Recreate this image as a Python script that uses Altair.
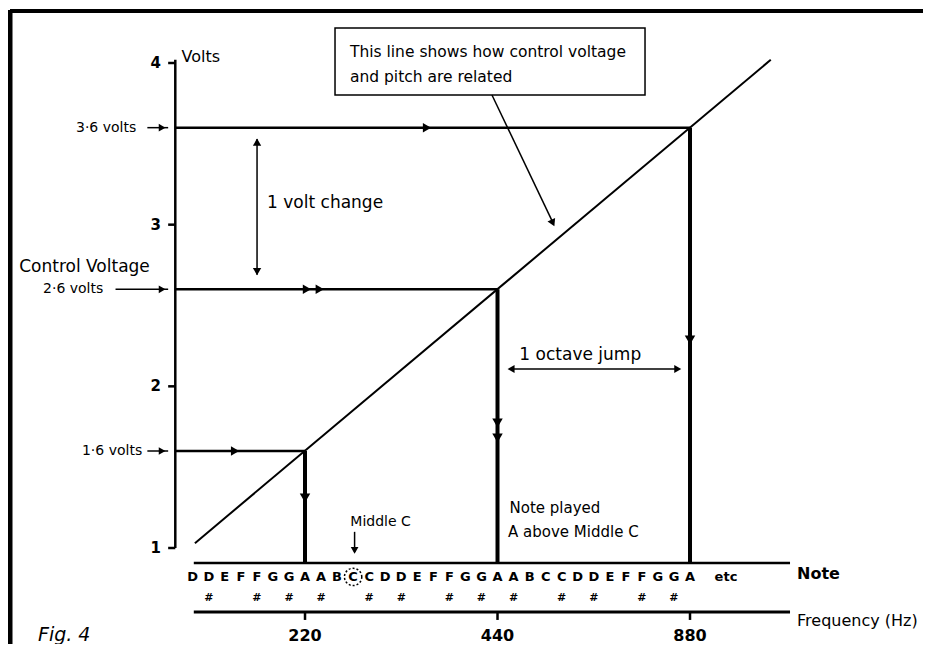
import altair as alt
import pandas as pd

# ---------------- data ----------------
cv_freq = [220, 440, 880]                  # Hz, the three A notes
cv_volts = [1.6, 2.6, 3.6]                 # control voltage for each
cv_labels = ["1·6 volts", "2·6 volts", "3·6 volts"]

relation_freq = [148, 1177]                # straight line on a log-frequency axis
relation_volts = [1.03, 4.02]

volt_ticks = [1, 2, 3, 4]
freq_ticks = [220, 440, 880]
freq_tick_labels = ["220", "440", "880"]

note_names = ["D", "D", "E", "F", "F", "G", "G",
              "A", "A", "B", "C", "C", "D", "D", "E", "F", "F", "G", "G",
              "A", "A", "B", "C", "C", "D", "D", "E", "F", "F", "G", "G",
              "A"]
note_sharp = [0, 1, 0, 0, 1, 0, 1,
              0, 1, 0, 0, 1, 0, 1, 0, 0, 1, 0, 1,
              0, 1, 0, 0, 1, 0, 1, 0, 0, 1, 0, 1,
              0]
note_freq = [146.8, 155.6, 164.8, 174.6, 185.0, 196.0, 207.7,
             220.0, 233.1, 246.9, 261.6, 277.2, 293.7, 311.1, 329.6, 349.2, 370.0, 392.0, 415.3,
             440.0, 466.2, 493.9, 523.3, 554.4, 587.3, 622.3, 659.3, 698.5, 740.0, 784.0, 830.6,
             880.0]
middle_c_freq = 261.6

# ---------------- annotation placement (data units: Hz, volts) ----------------
AXIS_F = 137.9
TICK_F = 134.4
TICKLABEL_F = 131.0
AXIS_TOP = 4.02
NOTE_LINE_V = 0.907
NOTE_TEXT_V = 0.821
SHARP_TEXT_V = 0.691
FREQ_LINE_V = 0.604
FREQ_TICK_END_V = 0.555
FREQ_LABEL_V = 0.456
ROW_START_F = 147.4
ROW_END_F = 1261.5

W, H = 915, 636
FONT = "DejaVu Sans"

xs = alt.Scale(type="log", base=2, domain=[75.5, 2036.3], nice=False, zero=False)
ys = alt.Scale(domain=[0.4062, 4.3402], nice=False, zero=False)


def X(f="x"):
    return alt.X(f"{f}:Q", scale=xs, axis=None)


def Y(f="y"):
    return alt.Y(f"{f}:Q", scale=ys, axis=None)


def text_layer(df, align="left", size=15, weight="normal", style="normal", baseline="middle"):
    return alt.Chart(df).mark_text(
        align=align, baseline=baseline, font=FONT, fontSize=size,
        fontWeight=weight, fontStyle=style, color="black"
    ).encode(x=X(), y=Y(), text="t:N")


def arrow_layer(df, shape, size=70, angle=0):
    return alt.Chart(df).mark_point(
        shape=shape, filled=True, size=size, color="black", opacity=1, angle=angle
    ).encode(x=X(), y=Y())


layers = []

# the relation line
layers.append(alt.Chart(pd.DataFrame({"x": relation_freq, "y": relation_volts}))
              .mark_line(color="black", strokeWidth=2).encode(x=X(), y=Y()))

# horizontal control-voltage lines from the axis to the relation line
layers.append(alt.Chart(pd.DataFrame({"x": [AXIS_F] * 3, "x2": cv_freq, "y": cv_volts}))
              .mark_rule(color="black", strokeWidth=2.5)
              .encode(x=X(), x2="x2:Q", y=Y()))

# vertical lines down to the note row
layers.append(alt.Chart(pd.DataFrame({"x": cv_freq, "y": cv_volts, "y2": [NOTE_LINE_V] * 3}))
              .mark_rule(color="black", strokeWidth=4)
              .encode(x=X(), y=Y(), y2="y2:Q"))

# volts axis
layers.append(alt.Chart(pd.DataFrame({"x": [AXIS_F], "y": [1.0], "y2": [AXIS_TOP]}))
              .mark_rule(color="black", strokeWidth=2.5)
              .encode(x=X(), y=Y(), y2="y2:Q"))
layers.append(alt.Chart(pd.DataFrame({"x": [TICK_F] * 4, "x2": [AXIS_F] * 4, "y": volt_ticks}))
              .mark_rule(color="black", strokeWidth=2.5)
              .encode(x=X(), x2="x2:Q", y=Y()))
layers.append(text_layer(pd.DataFrame({"x": [TICKLABEL_F] * 4, "y": volt_ticks,
                                       "t": [str(v) for v in volt_ticks]}),
                         align="right", size=15, weight="bold"))
layers.append(text_layer(pd.DataFrame({"x": [141.0], "y": [4.037], "t": ["Volts"]}), size=16))

# labels left of axis with arrows
layers.append(text_layer(pd.DataFrame({"x": [122.4, 106.4, 119.8], "y": cv_volts, "t": cv_labels}),
                         align="right", size=14))
layers.append(alt.Chart(pd.DataFrame({"x": [124.7, 111.2, 124.7], "x2": [TICK_F] * 3, "y": cv_volts}))
              .mark_rule(color="black", strokeWidth=1.5)
              .encode(x=X(), x2="x2:Q", y=Y()))
layers.append(arrow_layer(pd.DataFrame({"x": [131.5] * 3, "y": cv_volts}), "triangle-right", size=60))
layers.append(text_layer(pd.DataFrame({"x": [78.6], "y": [2.738], "t": ["Control Voltage"]}), size=17))

# arrowheads along the paths
layers.append(arrow_layer(pd.DataFrame({"x": [171.0, 221.5, 232.0, 341.3],
                                        "y": [1.6, 2.6, 2.6, 3.6]}), "triangle-right", size=90))
layers.append(arrow_layer(pd.DataFrame({"x": [220, 440, 440, 880],
                                        "y": [1.309, 1.773, 1.680, 2.287]}), "triangle-down", size=110))

# 1 volt change
layers.append(alt.Chart(pd.DataFrame({"x": [185.1], "y": [3.53], "y2": [2.69]}))
              .mark_rule(color="black", strokeWidth=1.5).encode(x=X(), y=Y(), y2="y2:Q"))
layers.append(arrow_layer(pd.DataFrame({"x": [185.1], "y": [3.51]}), "triangle-up", size=70))
layers.append(arrow_layer(pd.DataFrame({"x": [185.1], "y": [2.71]}), "triangle-down", size=70))
layers.append(text_layer(pd.DataFrame({"x": [191.9], "y": [3.134], "t": ["1 volt change"]}), size=17))

# 1 octave jump
layers.append(alt.Chart(pd.DataFrame({"x": [460.0], "x2": [846.0], "y": [2.107]}))
              .mark_rule(color="black", strokeWidth=1.5).encode(x=X(), x2="x2:Q", y=Y()))
layers.append(arrow_layer(pd.DataFrame({"x": [462.0], "y": [2.107]}), "triangle-left", size=65))
layers.append(arrow_layer(pd.DataFrame({"x": [842.0], "y": [2.107]}), "triangle-right", size=65))
layers.append(text_layer(pd.DataFrame({"x": [476.0], "y": [2.194], "t": ["1 octave jump"]}), size=17))

# callout box
layers.append(alt.Chart(pd.DataFrame({"x": [245.1], "x2": [748.4], "y": [4.216], "y2": [3.802]}))
              .mark_rect(fill="white", stroke="black", strokeWidth=1.5)
              .encode(x=X(), x2="x2:Q", y=Y(), y2="y2:Q"))
layers.append(text_layer(pd.DataFrame({"x": [258.6, 258.6], "y": [4.068, 3.913],
                                       "t": ["This line shows how control voltage",
                                             "and pitch are related"]}), size=15.5))
layers.append(alt.Chart(pd.DataFrame({"x": [431.3], "y": [3.802], "x2": [536.0], "y2": [3.02]}))
              .mark_rule(color="black", strokeWidth=1.5)
              .encode(x=X(), y=Y(), x2="x2:Q", y2="y2:Q"))
layers.append(arrow_layer(pd.DataFrame({"x": [537.0], "y": [3.01]}), "triangle-down", size=70, angle=335))

# Middle C pointer
layers.append(text_layer(pd.DataFrame({"x": [259.0], "y": [1.161], "t": ["Middle C"]}), size=14))
layers.append(alt.Chart(pd.DataFrame({"x": [263.0], "y": [1.10], "y2": [0.975]}))
              .mark_rule(color="black", strokeWidth=1.5).encode(x=X(), y=Y(), y2="y2:Q"))
layers.append(arrow_layer(pd.DataFrame({"x": [263.0], "y": [0.985]}), "triangle-down", size=60))

# Note played
layers.append(text_layer(pd.DataFrame({"x": [459.4, 457.0], "y": [1.247, 1.099],
                                       "t": ["Note played", "A above Middle C"]}), size=15))

# note row
layers.append(alt.Chart(pd.DataFrame({"x": [ROW_START_F], "x2": [ROW_END_F], "y": [NOTE_LINE_V]}))
              .mark_rule(color="black", strokeWidth=2.5).encode(x=X(), x2="x2:Q", y=Y()))
layers.append(text_layer(pd.DataFrame({"x": note_freq, "y": [NOTE_TEXT_V] * len(note_freq),
                                       "t": note_names}), align="center", size=13, weight="bold"))
sharp_f = [f for f, s in zip(note_freq, note_sharp) if s]
layers.append(text_layer(pd.DataFrame({"x": sharp_f, "y": [SHARP_TEXT_V] * len(sharp_f),
                                       "t": ["#"] * len(sharp_f)}), align="center", size=11, weight="bold"))
layers.append(text_layer(pd.DataFrame({"x": [1001.7], "y": [NOTE_TEXT_V], "t": ["etc"]}),
                         align="center", size=13, weight="bold"))
layers.append(alt.Chart(pd.DataFrame({"x": [middle_c_freq], "y": [NOTE_TEXT_V]}))
              .mark_point(shape="circle", size=300, filled=False, color="black",
                          strokeWidth=1.5, strokeDash=[2, 2], opacity=1)
              .encode(x=X(), y=Y()))
layers.append(text_layer(pd.DataFrame({"x": [1293.7], "y": [0.839], "t": ["Note"]}), size=16, weight="bold"))

# frequency axis
layers.append(alt.Chart(pd.DataFrame({"x": [ROW_START_F], "x2": [ROW_END_F], "y": [FREQ_LINE_V]}))
              .mark_rule(color="black", strokeWidth=3).encode(x=X(), x2="x2:Q", y=Y()))
layers.append(alt.Chart(pd.DataFrame({"x": freq_ticks, "y": [FREQ_LINE_V] * 3, "y2": [FREQ_TICK_END_V] * 3}))
              .mark_rule(color="black", strokeWidth=2.5).encode(x=X(), y=Y(), y2="y2:Q"))
layers.append(text_layer(pd.DataFrame({"x": freq_ticks, "y": [FREQ_LABEL_V] * 3, "t": freq_tick_labels}),
                         align="center", size=16, weight="bold"))
layers.append(text_layer(pd.DataFrame({"x": [1293.7], "y": [0.548], "t": ["Frequency (Hz)"]}), size=16))

# figure label
layers.append(text_layer(pd.DataFrame({"x": [84.1], "y": [0.462], "t": ["Fig. 4"]}), size=19, style="italic"))

# scanned page frame (left and top borders)
layers.append(alt.Chart(pd.DataFrame({"a": [0]})).mark_rule(color="black", strokeWidth=5)
              .encode(x=alt.value(2), y=alt.value(2), y2=alt.value(H)))
layers.append(alt.Chart(pd.DataFrame({"a": [0]})).mark_rule(color="black", strokeWidth=4)
              .encode(x=alt.value(2), x2=alt.value(W), y=alt.value(3)))

chart = alt.layer(*layers).properties(
    width=W, height=H, autosize="none", padding=0, background="white"
).configure_view(stroke=None)

chart.save("out.html", embed_options={"renderer": "svg", "actions": False})
